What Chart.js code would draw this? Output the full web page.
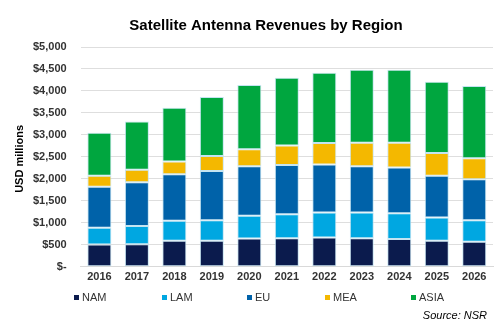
<!DOCTYPE html>
<html>
<head>
<meta charset="utf-8">
<script src="https://cdn.jsdelivr.net/npm/chart.js@4.4.0/dist/chart.umd.min.js"></script>
<style>
html,body{margin:0;padding:0;background:#fff;}
#wrap{width:500px;height:328px;position:relative;}
</style>
</head>
<body>
<div id="wrap"><canvas id="c" width="500" height="328"></canvas></div>
<script>
const years = ["2016","2017","2018","2019","2020","2021","2022","2023","2024","2025","2026"];
const NAM  = [510, 515, 590, 590, 645, 650, 665, 650, 630, 590, 570];
const LAM  = [380, 415, 455, 470, 515, 545, 570, 585, 590, 530, 490];
const EU   = [930, 995, 1060, 1120, 1130, 1120, 1090, 1055, 1040, 950, 930];
const MEA  = [250, 280, 290, 340, 385, 445, 490, 530, 560, 520, 480];
const ASIA = [980, 1100, 1225, 1340, 1460, 1540, 1600, 1660, 1660, 1620, 1645];
const seriesNames = ["NAM","LAM","EU","MEA","ASIA"];
const seriesColors = ["#0b1b4d","#00a7e1","#0062a9","#f4b800","#00a63f"];
const titleText = "Satellite Antenna Revenues by Region";
const yAxisTitle = "USD millions";
const sourceText = "Source: NSR";

const seriesData = [NAM, LAM, EU, MEA, ASIA];
const datasets = seriesNames.map((n,i)=>({
  label:n, data:seriesData[i], backgroundColor:seriesColors[i],
  borderColor:'rgba(190,225,240,0.9)', borderWidth:1, borderSkipped:false,
  barPercentage:0.64, categoryPercentage:1.0
}));

const FONT = '"Liberation Sans", Arial, sans-serif';
const extras = {
  id:'extras',
  afterDraw(chart){
    const ctx = chart.ctx;
    const ca = chart.chartArea;
    ctx.save();
    ctx.fillStyle = '#000';
    ctx.font = 'bold 15px ' + FONT;
    ctx.textAlign = 'center';
    ctx.textBaseline = 'middle';
    ctx.fillText(titleText, 266, 26);
    // y axis title
    ctx.save();
    ctx.translate(20, (ca.top + ca.bottom)/2 + 2);
    ctx.rotate(-Math.PI/2);
    ctx.font = 'bold 11px ' + FONT;
    ctx.fillText(yAxisTitle, 0, 0);
    ctx.restore();
    // legend
    const xs = [74, 162, 247, 325, 411];
    ctx.font = '11px ' + FONT;
    ctx.textAlign = 'left';
    chart.data.datasets.forEach((d,i)=>{
      ctx.fillStyle = d.backgroundColor;
      ctx.fillRect(xs[i], 295, 5, 5);
      ctx.fillStyle = '#333';
      ctx.fillText(d.label, xs[i]+8, 298);
    });
    ctx.font = 'italic 11px ' + FONT;
    ctx.textAlign = 'right';
    ctx.fillStyle = '#000';
    ctx.fillText(sourceText, 487, 316);
    ctx.restore();
  }
};

new Chart(document.getElementById('c'), {
  type:'bar',
  data:{labels:years, datasets},
  options:{
    responsive:false, animation:false,
    layout:{padding:{top:47, right:7, bottom:40, left:19}},
    plugins:{legend:{display:false}, title:{display:false}, tooltip:{enabled:false}},
    scales:{
      x:{stacked:true, grid:{display:false, drawTicks:false}, border:{display:true,color:'#d9d9d9'},
         ticks:{color:'#333', font:{family:FONT, size:11, weight:'bold'}, padding:4}},
      y:{stacked:true, min:0, max:5000,
         ticks:{stepSize:500, color:'#333', padding:14,
           font:{family:FONT, size:11, weight:'bold'},
           callback:v=> v===0 ? '$-' : '$'+v.toLocaleString('en-US')},
         grid:{color:'#dedede', drawTicks:false}, border:{display:false}}
    }
  },
  plugins:[extras]
});
</script>
</body>
</html>
